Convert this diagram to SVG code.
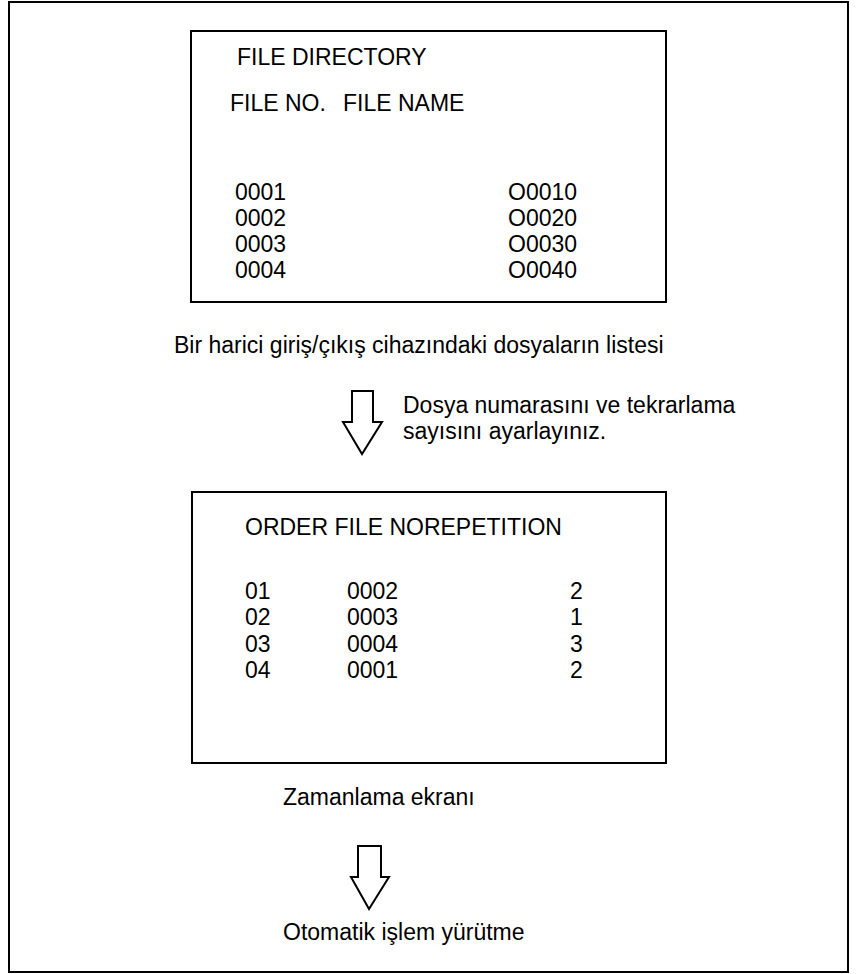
<svg xmlns="http://www.w3.org/2000/svg" width="858" height="974" viewBox="0 0 858 974">
<style>
text{font-family:"Liberation Sans",Arial,Helvetica,sans-serif;font-size:23px;fill:#000}
.box{fill:none;stroke:#000;stroke-width:2}
.arrow{fill:#fff;stroke:#000;stroke-width:2;stroke-linejoin:miter}
</style>
<rect x="0" y="0" width="858" height="974" fill="#fff"/>
<rect x="9" y="2" width="839" height="970" fill="none" stroke="#000" stroke-width="2"/>
<g id="file-directory">
<rect class="box" x="191" y="31" width="475" height="271"/>
<text x="237" y="65">FILE DIRECTORY</text>
<text x="230" y="111">FILE NO.</text>
<text x="343" y="111">FILE NAME</text>
<text x="235" y="200">0001</text>
<text x="235" y="226">0002</text>
<text x="235" y="252">0003</text>
<text x="235" y="278">0004</text>
<text x="508" y="200">O0010</text>
<text x="508" y="226">O0020</text>
<text x="508" y="252">O0030</text>
<text x="508" y="278">O0040</text>
</g>
<g id="caption1"><text x="174" y="353">Bir harici giriş/çıkış cihazındaki dosyaların listesi</text></g>
<g id="schedule">
<rect class="box" x="192" y="492" width="474" height="271"/>
<text x="245" y="535">ORDER FILE NOREPETITION</text>
<text x="245" y="599">01</text>
<text x="245" y="625">02</text>
<text x="245" y="652">03</text>
<text x="245" y="678">04</text>
<text x="347" y="599">0002</text>
<text x="347" y="625">0003</text>
<text x="347" y="652">0004</text>
<text x="347" y="678">0001</text>
<text x="570" y="599">2</text>
<text x="570" y="625">1</text>
<text x="570" y="652">3</text>
<text x="570" y="678">2</text>
</g>
<g id="caption2"><text x="283" y="805">Zamanlama ekranı</text></g>
<g id="caption3"><text x="283" y="940">Otomatik işlem yürütme</text></g>
<g id="connectors">
<path class="arrow" d="M352,391 H373 V422 H382 L362,454 L343,422 H352 Z"/>
<path class="arrow" d="M358,846 H381 V877 H389 L369,909 L351,877 H358 Z"/>
</g>
<g id="arrow-note">
<text x="403" y="413">Dosya numarasını ve tekrarlama</text>
<text x="403" y="439">sayısını ayarlayınız.</text>
</g>
</svg>
